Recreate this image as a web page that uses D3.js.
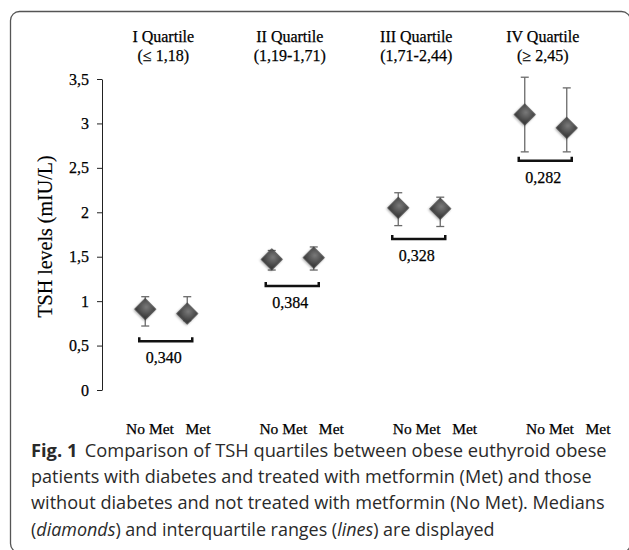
<!DOCTYPE html>
<html>
<head>
<meta charset="utf-8">
<script src="https://cdn.jsdelivr.net/npm/d3@7"></script>
<style>
  body { margin: 0; background: #fff; }
</style>
</head>
<body>
<script>

//******************************************************************************
// Data ************************************************************************

    var quartileNames  = ["I Quartile", "II Quartile", "III Quartile", "IV Quartile"];
    var quartileRanges = ["(\u2264 1,18)", "(1,19-1,71)", "(1,71-2,44)", "(\u2265 2,45)"];
    var groupNames     = ["No Met", "Met"];

    var medianNoMet = [0.91, 1.47, 2.05, 3.10]; // diamonds
    var medianMet   = [0.86, 1.49, 2.04, 2.95];

    var lowNoMet  = [0.72, 1.35, 1.85, 2.68];   // interquartile lines
    var highNoMet = [1.05, 1.57, 2.22, 3.52];
    var lowMet    = [0.78, 1.35, 1.84, 2.68];
    var highMet   = [1.05, 1.61, 2.17, 3.40];

    var pValues      = ["0,340", "0,384", "0,328", "0,282"];
    var bracketLevel = [0.55, 1.17, 1.70, 2.58];

    var yTicks = [0, 0.5, 1, 1.5, 2, 2.5, 3, 3.5];

    var captionLines = [
        [{t: "Fig. 1", b: true}, {t: "Comparison of TSH quartiles between obese euthyroid obese", dx: 7}],
        [{t: "patients with diabetes and treated with metformin (Met) and those"}],
        [{t: "without diabetes and not treated with metformin (No Met). Medians"}],
        [{t: "("}, {t: "diamonds", i: true}, {t: ") and interquartile ranges ("}, {t: "lines", i: true}, {t: ") are displayed"}]
    ];


//******************************************************************************
// Settings ********************************************************************

    var chartSettings = {
        width : 629,
        height : 550,

        axisX : 102,      // position of the y axis
        plotRight : 609,
        yTop : 79,        // pixel of the 3,5 tick
        yBottom : 390,    // pixel of the 0 tick

        groupShift : 21,  // half distance between No Met and Met diamonds
        diamondSize : 225,
        capWidth : 8,

        serif : "'Liberation Serif', 'Times New Roman', serif",
        sans : "'Open Sans', 'Noto Sans', sans-serif",
        ink : "#000",
    };


//******************************************************************************
// Initialization **************************************************************

    var svg = d3.select("body").append("svg")
        .attr("width", chartSettings.width)
        .attr("height", chartSettings.height);

    var defs = svg.append("defs");

    var grad = defs.append("radialGradient") // shading of the diamonds
        .attr("id", "diamondFill")
        .attr("cx", "45%").attr("cy", "35%").attr("r", "70%");
    grad.append("stop").attr("offset", "0%").attr("stop-color", "#7a7a7a");
    grad.append("stop").attr("offset", "100%").attr("stop-color", "#3a3a3a");

    defs.append("filter").attr("id", "soft")
        .attr("x", "-50%").attr("y", "-50%").attr("width", "200%").attr("height", "200%")
        .append("feDropShadow")
        .attr("dx", 0).attr("dy", 1.2).attr("stdDeviation", 1.2)
        .attr("flood-color", "#000").attr("flood-opacity", 0.35);

    var x = d3.scaleBand() // one band per quartile
        .domain(quartileNames)
        .range([chartSettings.axisX + 1, chartSettings.plotRight]);

    var xInner = d3.scalePoint() // No Met / Met inside a band
        .domain(groupNames)
        .range([-chartSettings.groupShift, chartSettings.groupShift]);

    var xLabel = d3.scaleLinear() // label row under the plot
        .domain([0, quartileNames.length - 1])
        .range([150, 550]);

    var y = d3.scaleLinear()
        .domain([0, 3.5])
        .range([chartSettings.yBottom, chartSettings.yTop]);


//******************************************************************************
// Prog ************************************************************************

    drawFrame();
    drawAxis();
    drawHeaders();
    drawGroups();
    drawCaption();


//******************************************************************************
// Functions *******************************************************************

    function center(q){ // middle of a quartile band
        return x(q) + x.bandwidth() / 2;
    }


    function serifText(sel, size){ // common style of the chart texts
        sel.attr("fill", chartSettings.ink)
            .attr("stroke", chartSettings.ink)
            .attr("stroke-width", 0.25)
            .style("font-family", chartSettings.serif)
            .style("font-size", size + "px");
    }


    function drawFrame(){ // rounded box around the figure
        svg.append("rect")
            .attr("x", 10.5).attr("y", 11.5)
            .attr("width", 620).attr("height", 541)
            .attr("rx", 9)
            .attr("fill", "none")
            .attr("stroke", "#555")
            .attr("stroke-width", 1.3);
    }


    function drawAxis(){
        var axis = svg.append("g")
            .attr("transform", "translate(" + chartSettings.axisX + ",0)")
            .call(d3.axisLeft(y)
                .tickValues(yTicks)
                .tickSize(5)
                .tickSizeOuter(0)
                .tickPadding(8)
                .tickFormat(d => String(d).replace(".", ",")));

        axis.select(".domain").attr("stroke", "#222");
        axis.selectAll(".tick line").attr("stroke", "#222");
        serifText(axis.selectAll("text"), 16);

        var title = svg.append("text") // axis title
            .attr("transform", "translate(52," + ((chartSettings.yTop + chartSettings.yBottom) / 2 + 2) + ") rotate(-90)")
            .attr("text-anchor", "middle")
            .text("TSH levels (mIU/L)");
        serifText(title, 20);
        title.attr("stroke-width", 0.15);

        // No Met / Met labels
        quartileNames.forEach((q, i) => {
            groupNames.forEach((g, j) => {
                var t = svg.append("text")
                    .attr("x", xLabel(i) + j * 48)
                    .attr("y", 434)
                    .attr("text-anchor", "middle")
                    .text(g);
                serifText(t, 15.5);
            });
        });
    }


    function drawHeaders(){ // quartile titles above the plot
        var head = svg.append("g").selectAll("g")
            .data(quartileNames)
            .join("g")
            .attr("transform", q => "translate(" + (center(q) - 3) + ",0)");

        head.append("text")
            .attr("y", 42)
            .text(q => q);
        head.append("text")
            .attr("y", 61)
            .text((q, i) => quartileRanges[i]);

        serifText(head.selectAll("text").attr("text-anchor", "middle"), 16);
    }


    function drawGroups(){
        var rows = [];
        quartileNames.forEach((q, i) => {
            rows.push({q: q, g: "No Met", med: medianNoMet[i], lo: lowNoMet[i], hi: highNoMet[i]});
            rows.push({q: q, g: "Met", med: medianMet[i], lo: lowMet[i], hi: highMet[i]});
        });

        var px = d => center(d.q) + xInner(d.g);

        var bars = svg.append("g")
            .attr("stroke", "#6a6a6a")
            .attr("stroke-width", 1.3);

        bars.selectAll(".whisker").data(rows).join("line") // interquartile lines
            .attr("x1", px).attr("x2", px)
            .attr("y1", d => y(d.lo)).attr("y2", d => y(d.hi));

        ["lo", "hi"].forEach(k => {
            bars.selectAll(".cap-" + k).data(rows).join("line")
                .attr("x1", d => px(d) - chartSettings.capWidth / 2)
                .attr("x2", d => px(d) + chartSettings.capWidth / 2)
                .attr("y1", d => y(d[k])).attr("y2", d => y(d[k]));
        });

        svg.append("g").selectAll("path").data(rows).join("path") // medians
            .attr("d", d3.symbol().type(d3.symbolSquare).size(chartSettings.diamondSize))
            .attr("transform", d => "translate(" + px(d) + "," + y(d.med) + ") rotate(45)")
            .attr("fill", "url(#diamondFill)")
            .attr("stroke", "#3a3a3a")
            .attr("stroke-width", 0.6)
            .attr("filter", "url(#soft)");

        // brackets with p values
        quartileNames.forEach((q, i) => {
            var x0 = center(q) + xInner("No Met") - 6;
            var x1 = center(q) + xInner("Met") + 5;
            var yb = y(bracketLevel[i]);

            svg.append("path")
                .attr("d", "M" + x0 + "," + (yb - 4) + "V" + yb + "H" + x1 + "V" + (yb - 4))
                .attr("fill", "none")
                .attr("stroke", "#111")
                .attr("stroke-width", 2.5);

            var t = svg.append("text")
                .attr("x", (x0 + x1) / 2 - 2)
                .attr("y", yb + 22)
                .attr("text-anchor", "middle")
                .text(pValues[i]);
            serifText(t, 16);
        });
    }


    function drawCaption(){ // figure legend, each line fitted to its width
        var baselines = [457, 483, 509, 536];
        var rightEdges = [607, 592, 605, 495];
        var left = 31;

        captionLines.forEach((line, i) => {
            var g = svg.append("g");
            var t = g.append("text")
                .attr("x", 0).attr("y", 0)
                .attr("fill", "#2a2a2a")
                .style("font-family", chartSettings.sans)
                .style("font-size", "17.5px");

            line.forEach(s => {
                t.append("tspan")
                    .attr("dx", s.dx || 0)
                    .style("font-weight", s.b ? "700" : "400")
                    .style("font-style", s.i ? "italic" : "normal")
                    .text(s.t);
            });

            var w = t.node().getBBox().width;
            var k = (rightEdges[i] - left) / w;
            g.attr("transform", "translate(" + left + "," + baselines[i] + ") scale(" + k + ",1)");
        });
    }

</script>
</body>
</html>
